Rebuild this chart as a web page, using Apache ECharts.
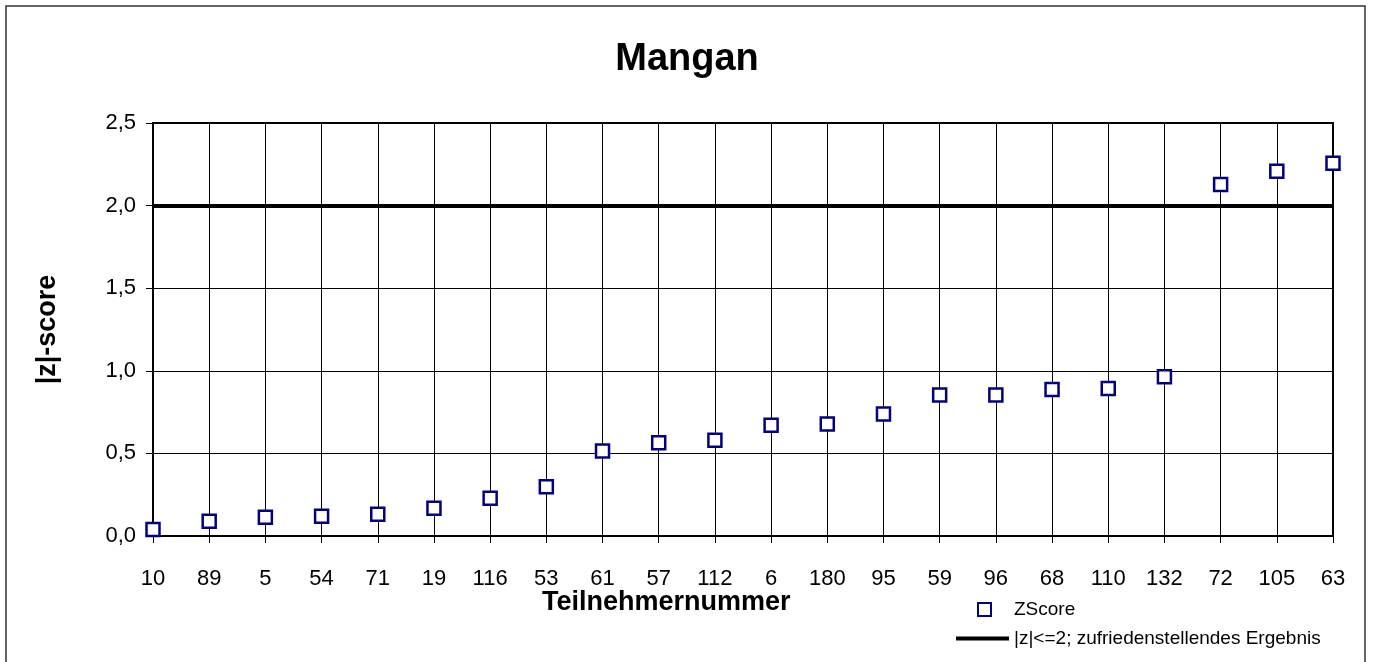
<!DOCTYPE html>
<html>
<head>
<meta charset="utf-8">
<script src="https://cdn.jsdelivr.net/npm/echarts@6/dist/echarts.min.js"></script>
<style>
  html, body { margin: 0; padding: 0; background: #fff; }
  #main { width: 1374px; height: 662px; }
</style>
</head>
<body>
<div id="main"></div>
<script>
// Teilnehmer, sortiert nach |z|
var teilnehmer = ["10", "89", "5", "54", "71", "19", "116", "53", "61", "57", "112",
  "6", "180", "95", "59", "96", "68", "110", "132", "72", "105", "63"];
var zScore = [0.04, 0.09, 0.113, 0.119, 0.131, 0.168, 0.228, 0.298, 0.514, 0.564, 0.579,
  0.671, 0.678, 0.738, 0.853, 0.853, 0.887, 0.893, 0.964, 2.128, 2.208, 2.256];
var yTicks = [0, 0.5, 1, 1.5, 2, 2.5];
var grenze = 2;
var grenzeName = "|z|<=2; zufriedenstellendes Ergebnis";

var font = "'Liberation Sans', Arial, sans-serif";
var myChart = echarts.init(document.getElementById("main"));

myChart.setOption({
  animation: false,
  textStyle: { fontFamily: font },
  title: [
    {
      text: "Mangan",
      left: "center",
      top: 41,
      padding: 0,
      textStyle: { fontFamily: font, fontSize: 38, fontWeight: "bold", color: "#000" }
    },
    {
      text: "Teilnehmernummer",
      left: 542,
      top: 589,
      padding: 0,
      textStyle: { fontFamily: font, fontSize: 27, fontWeight: "bold", color: "#000" }
    }
  ],
  graphic: [
    {
      type: "rect",
      shape: { x: 6, y: 6, width: 1359, height: 700 },
      style: { fill: "none", stroke: "#333", lineWidth: 1.5 },
      silent: true
    }
  ],
  legend: [
    {
      data: ["ZScore"],
      left: 977,
      top: 600,
      padding: 0,
      itemWidth: 13,
      itemHeight: 13,
      textStyle: { fontFamily: font, fontSize: 19, color: "#000", padding: [0, 0, 0, 18] }
    },
    {
      data: [{ name: grenzeName, icon: "rect" }],
      left: 956,
      top: 629,
      padding: 0,
      itemWidth: 53,
      itemHeight: 4,
      itemStyle: { color: "#000" },
      textStyle: { fontFamily: font, fontSize: 19, color: "#000" }
    }
  ],
  grid: {
    left: 153,
    right: 41,
    top: 123,
    bottom: 126,
    show: true,
    borderColor: "#000",
    borderWidth: 2,
    backgroundColor: "#fff"
  },
  xAxis: {
    type: "category",
    data: teilnehmer,
    boundaryGap: false,
    axisLine: { lineStyle: { color: "#000", width: 2 } },
    axisTick: { show: true, inside: false, length: 7, lineStyle: { color: "#000", width: 1 } },
    axisLabel: { color: "#000", fontSize: 22, margin: 32, interval: 0, fontFamily: font },
    splitLine: { show: true, lineStyle: { color: "#000", width: 1 } }
  },
  yAxis: {
    type: "value",
    min: yTicks[0],
    max: yTicks[yTicks.length - 1],
    interval: 0.5,
    name: "|z|-score",
    nameLocation: "middle",
    nameGap: 92,
    nameTextStyle: { fontFamily: font, fontSize: 27, fontWeight: "bold", color: "#000" },
    axisLine: { show: true, lineStyle: { color: "#000", width: 2 } },
    axisTick: { show: true, length: 7, lineStyle: { color: "#000", width: 1 } },
    axisLabel: {
      color: "#000",
      fontSize: 22,
      margin: 17,
      fontFamily: font,
      formatter: function (v) { return v.toFixed(1).replace(".", ","); }
    },
    splitLine: { show: true, lineStyle: { color: "#000", width: 1 } }
  },
  series: [
    {
      name: grenzeName,
      type: "line",
      data: [],
      itemStyle: { color: "#000" },
      markLine: {
        silent: true,
        symbol: "none",
        label: { show: false },
        lineStyle: { color: "#000", width: 4, type: "solid" },
        data: [{ yAxis: grenze }]
      }
    },
    {
      name: "ZScore",
      type: "scatter",
      data: zScore,
      symbol: "rect",
      symbolSize: 13,
      clip: false,
      z: 5,
      itemStyle: { color: "#fff", borderColor: "#000080", borderWidth: 2.5, opacity: 1 }
    }
  ]
});
</script>
</body>
</html>
